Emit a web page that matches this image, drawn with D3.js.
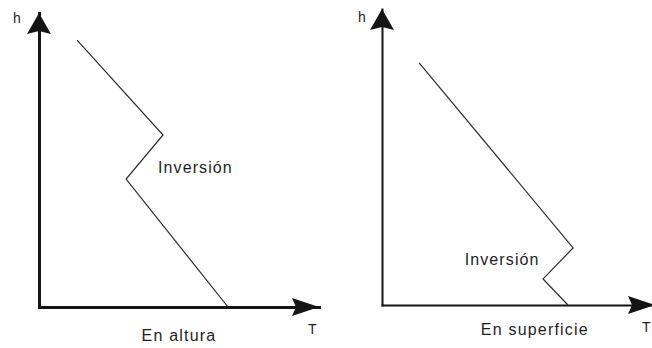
<!DOCTYPE html>
<html>
<head>
<meta charset="utf-8">
<script src="https://cdn.jsdelivr.net/npm/d3@7"></script>
<style>
  html, body { margin: 0; padding: 0; background: #fff; }
  svg { display: block; }
  text { font-family: "Liberation Sans", Arial, sans-serif; fill: #1e1e1e; }
</style>
</head>
<body>
<svg id="chart" width="652" height="348"></svg>
<script>
// ---- data (schematic temperature profiles: T vs h, arbitrary units 0-10) ----
const panelTitles = ["En altura", "En superficie"];
const axisLabelX = "T";
const axisLabelY = "h";
const inversionLabel = "Inversión";

// Inversion aloft
const altT = [1.36, 4.43, 3.11, 6.75];
const altH = [9.08, 5.85, 4.35, 0.0];
// Surface inversion
const supT = [1.36, 7.0, 5.9, 6.81];
const supH = [8.18, 1.93, 0.88, 0.0];

const domainT = [0, 10];
const domainH = [0, 10];

const svg = d3.select("#chart");

const panels = [
  { T: altT, H: altH, title: panelTitles[0],
    xr: [39, 319], yr: [307, 13], axisW: 3,
    labelAt: [4.25, 4.57], titleX: 5.0, tX: 308 },
  { T: supT, H: supH, title: panelTitles[1],
    xr: [382, 655], yr: [305, 9], axisW: 2,
    labelAt: [3.03, 1.35], titleX: 5.6, tX: 642 }
];

panels.forEach((p, i) => {
  const x = d3.scaleLinear().domain(domainT).range(p.xr);
  const y = d3.scaleLinear().domain(domainH).range(p.yr);
  const g = svg.append("g");

  // axes (no ticks)
  const xAxis = g.append("g")
    .attr("transform", `translate(0,${y(0)})`)
    .call(d3.axisBottom(x).ticks(0).tickSizeOuter(0));
  const yAxis = g.append("g")
    .attr("transform", `translate(${x(0)},0)`)
    .call(d3.axisLeft(y).ticks(0).tickSizeOuter(0));
  [xAxis, yAxis].forEach(a => a.select(".domain")
    .attr("stroke", "#151515")
    .attr("stroke-width", p.axisW)
    .attr("stroke-linecap", "square"));

  // arrow heads at axis ends
  const tipY = [x(0), y(10)];
  g.append("path")
    .attr("d", `M${tipY[0]},${tipY[1]} L${tipY[0] + 12},${tipY[1] + 21} L${tipY[0]},${tipY[1] + 18} L${tipY[0] - 12},${tipY[1] + 21} Z`)
    .attr("fill", "#151515");
  const tipX = [x(10), y(0)];
  g.append("path")
    .attr("d", `M${tipX[0]},${tipX[1]} L${tipX[0] - 27},${tipX[1] + 9} L${tipX[0] - 23},${tipX[1]} L${tipX[0] - 27},${tipX[1] - 9} Z`)
    .attr("fill", "#151515");

  // temperature profile
  const line = d3.line().x(d => x(d[0])).y(d => y(d[1]));
  g.append("path")
    .datum(p.T.map((t, k) => [t, p.H[k]]))
    .attr("d", line)
    .attr("fill", "none")
    .attr("stroke", "#2a2a2a")
    .attr("stroke-width", 1.2);

  // labels
  g.append("text")
    .attr("x", x(0) - (i === 0 ? 26 : 24))
    .attr("y", y(10) + (i === 0 ? 10 : 13))
    .attr("font-size", 14)
    .text(axisLabelY);
  g.append("text")
    .attr("x", p.tX)
    .attr("y", y(0) + 27)
    .attr("font-size", 14)
    .text(axisLabelX);
  g.append("text")
    .attr("x", x(p.labelAt[0]))
    .attr("y", y(p.labelAt[1]))
    .attr("font-size", 16)
    .attr("letter-spacing", 1.1)
    .text(inversionLabel);
  g.append("text")
    .attr("x", x(p.titleX))
    .attr("y", y(0) + (i === 0 ? 34 : 30))
    .attr("text-anchor", "middle")
    .attr("font-size", 16)
    .attr("letter-spacing", 1.2)
    .text(p.title);
});
</script>
</body>
</html>
